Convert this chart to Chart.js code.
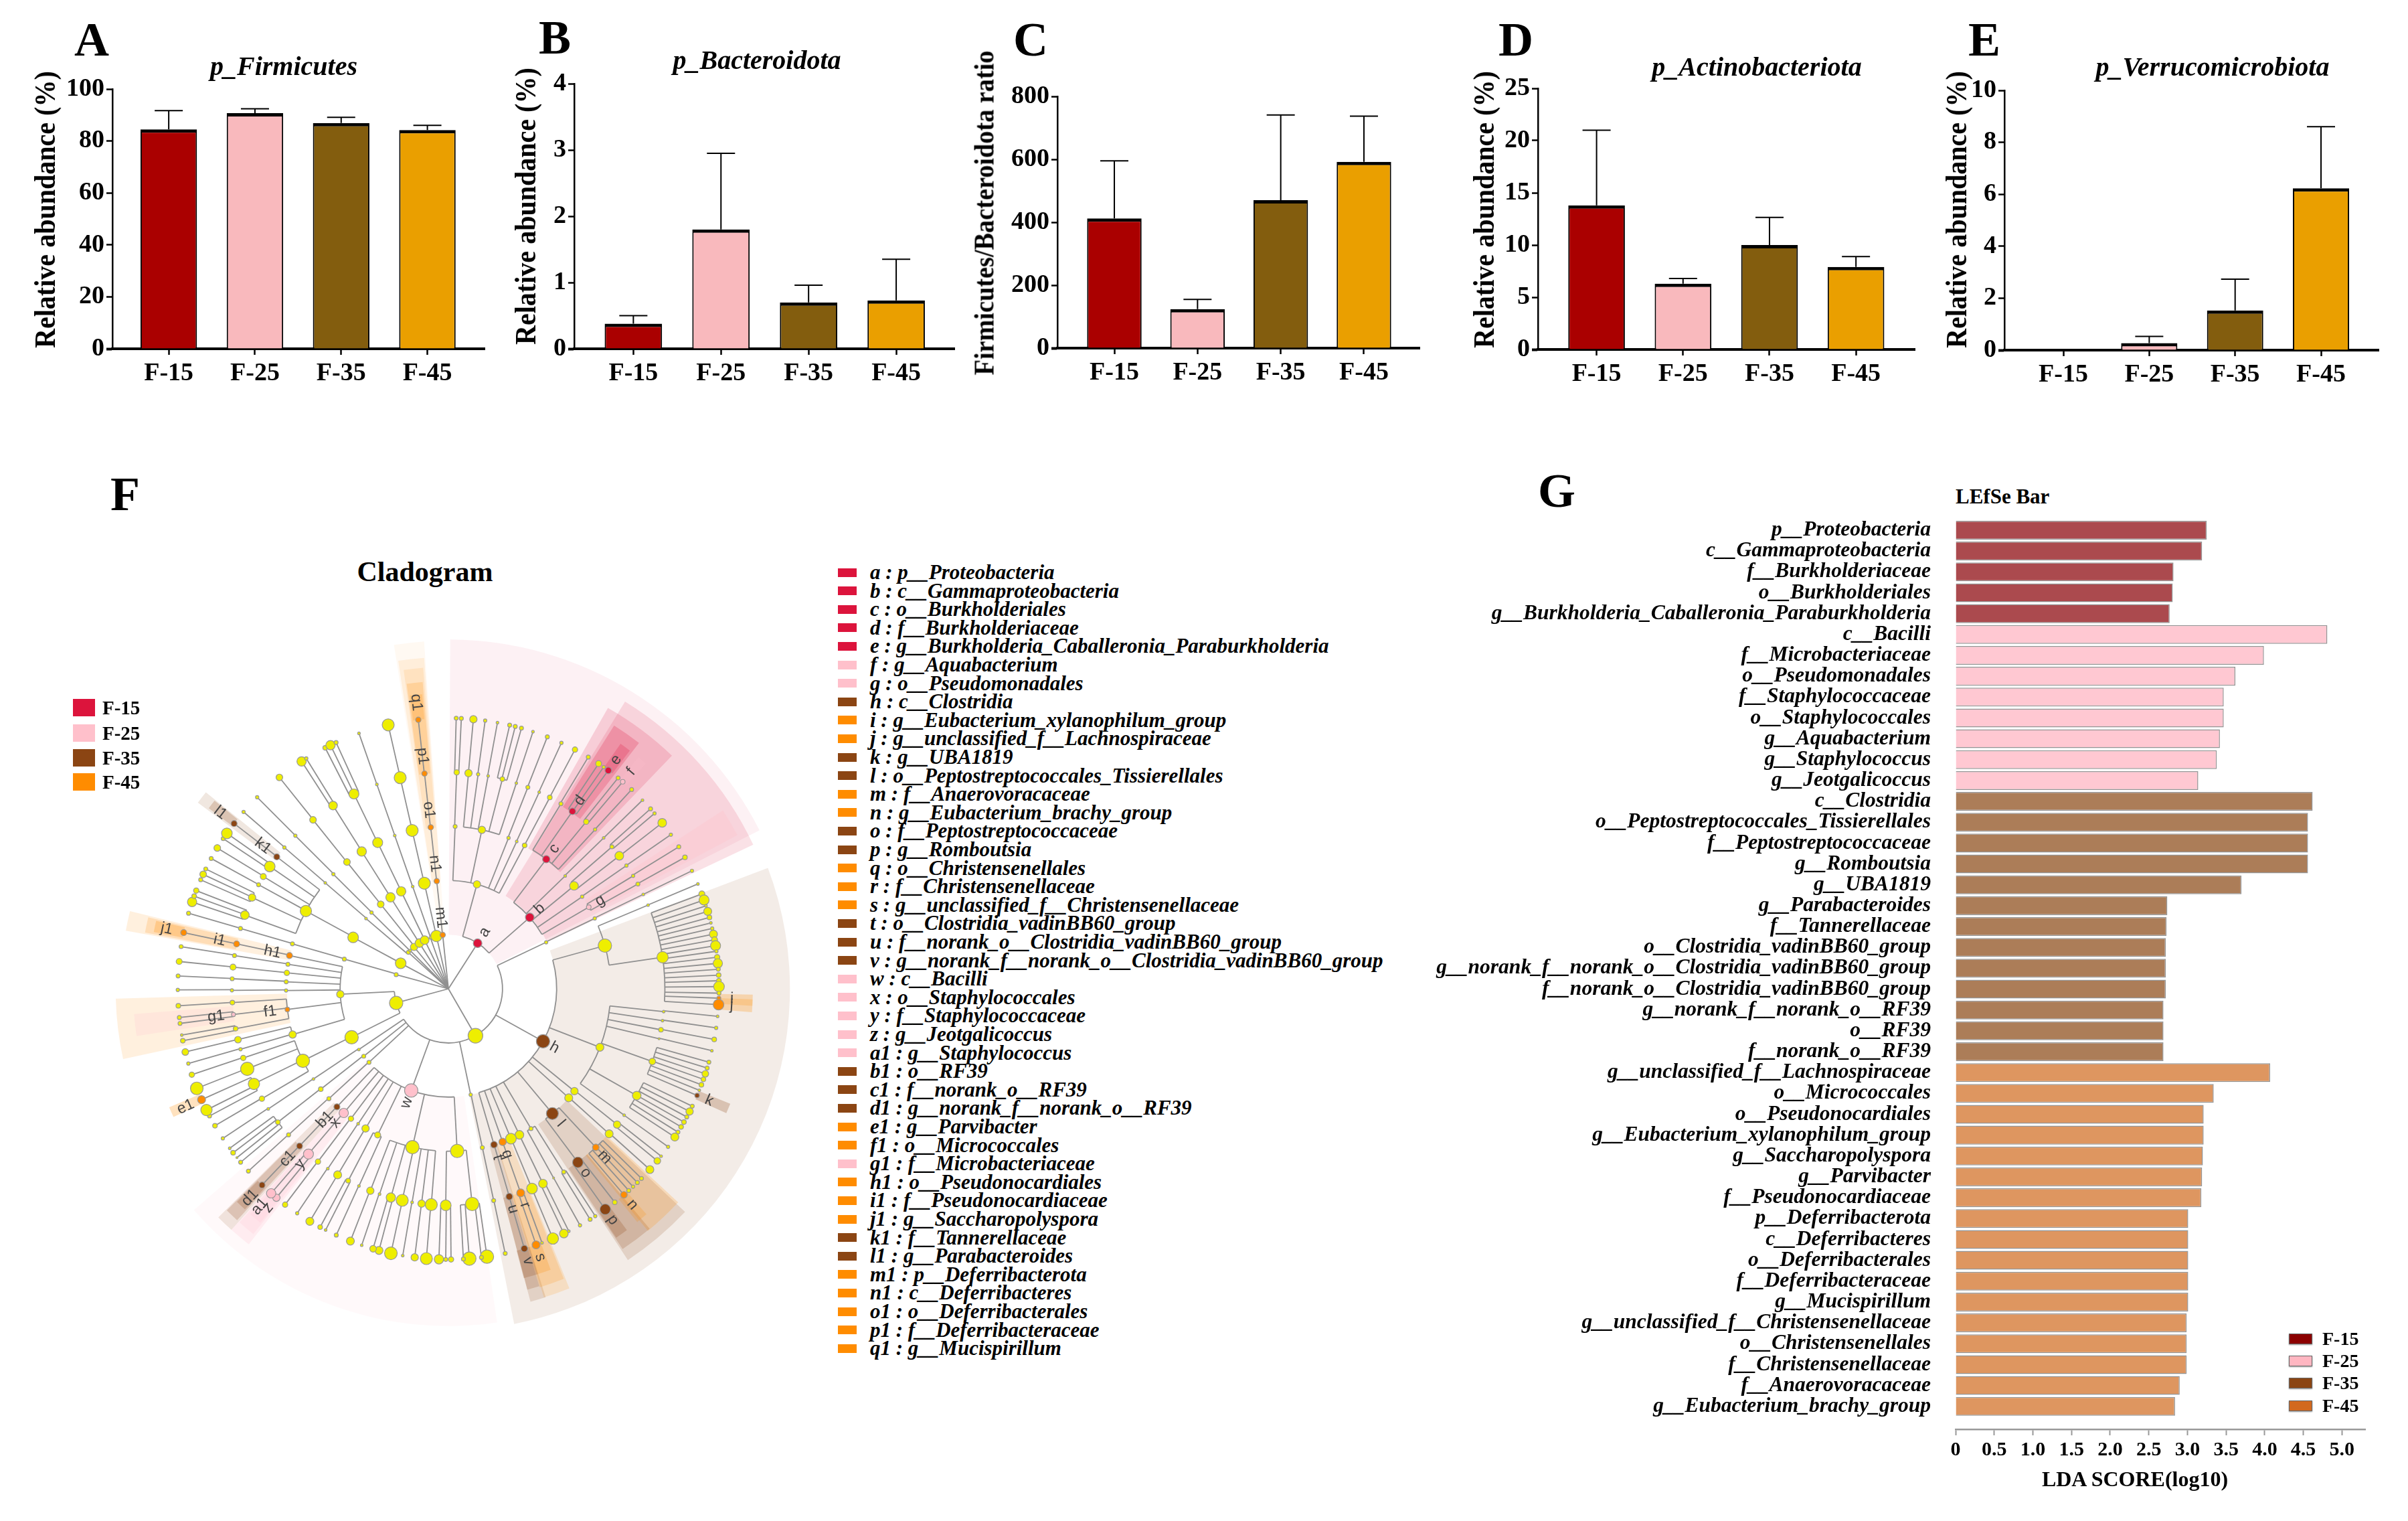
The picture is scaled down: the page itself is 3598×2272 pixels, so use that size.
<!DOCTYPE html>
<html>
<head>
<meta charset="utf-8">
<title>Gut microbiota panels</title>
<script src="https://cdn.jsdelivr.net/npm/chart.js@4"></script>
<style>
  html, body { margin: 0; padding: 0; background: #fff; }
  #page { position: relative; width: 3598px; height: 2272px; overflow: hidden; font-family: "Liberation Serif", serif; color: #000; }
  #page canvas { position: absolute; }
  .txt { position: absolute; white-space: nowrap; font-weight: bold; }
  .swatch { position: absolute; }
</style>
</head>
<body>
<div id="page"></div>
<script>
// ---- panels A-E ----
const groups = ['F-15', 'F-25', 'F-35', 'F-45'];
const barColors = ['#AA0000', '#F9B9BD', '#835D0E', '#EA9F00'];

const firmicutesMean = [84.5, 90.7, 86.9, 84.2];
const firmicutesUpper = [91.7, 92.4, 89.1, 86.0];
const bacteroidotaMean = [0.38, 1.80, 0.70, 0.73];
const bacteroidotaUpper = [0.50, 2.95, 0.96, 1.35];
const ratioMean = [412, 124, 470, 592];
const ratioUpper = [595, 155, 741, 737];
const actinoMean = [13.8, 6.3, 10.0, 7.9];
const actinoUpper = [21.0, 6.8, 12.65, 8.9];
const verrucoMean = [0, 0.27, 1.53, 6.23];
const verrucoUpper = [0, 0.53, 2.73, 8.6];

// ---- panel G ----
const lefseTaxa = [
  'p__Proteobacteria', 'c__Gammaproteobacteria', 'f__Burkholderiaceae', 'o__Burkholderiales',
  'g__Burkholderia_Caballeronia_Paraburkholderia', 'c__Bacilli', 'f__Microbacteriaceae', 'o__Pseudomonadales',
  'f__Staphylococcaceae', 'o__Staphylococcales', 'g__Aquabacterium', 'g__Staphylococcus', 'g__Jeotgalicoccus',
  'c__Clostridia', 'o__Peptostreptococcales_Tissierellales', 'f__Peptostreptococcaceae', 'g__Romboutsia',
  'g__UBA1819', 'g__Parabacteroides', 'f__Tannerellaceae', 'o__Clostridia_vadinBB60_group',
  'g__norank_f__norank_o__Clostridia_vadinBB60_group', 'f__norank_o__Clostridia_vadinBB60_group',
  'g__norank_f__norank_o__RF39', 'o__RF39', 'f__norank_o__RF39', 'g__unclassified_f__Lachnospiraceae',
  'o__Micrococcales', 'o__Pseudonocardiales', 'g__Eubacterium_xylanophilum_group', 'g__Saccharopolyspora',
  'g__Parvibacter', 'f__Pseudonocardiaceae', 'p__Deferribacterota', 'c__Deferribacteres', 'o__Deferribacterales',
  'f__Deferribacteraceae', 'g__Mucispirillum', 'g__unclassified_f__Christensenellaceae', 'o__Christensenellales',
  'f__Christensenellaceae', 'f__Anaerovoracaceae', 'g__Eubacterium_brachy_group'
];
const lefseScore = [
  3.25, 3.19, 2.82, 2.81, 2.77, 4.81, 3.99, 3.62, 3.47, 3.47, 3.42, 3.38, 3.14,
  4.62, 4.56, 4.56, 4.56, 3.70, 2.74, 2.73, 2.72, 2.72, 2.72, 2.69, 2.69, 2.69,
  4.07, 3.34, 3.21, 3.21, 3.20, 3.19, 3.18, 3.01, 3.01, 3.01, 3.01, 3.01, 2.99, 2.99, 2.99, 2.90, 2.84
];
const lefseGroup = [
  0, 0, 0, 0, 0, 1, 1, 1, 1, 1, 1, 1, 1,
  2, 2, 2, 2, 2, 2, 2, 2, 2, 2, 2, 2, 2,
  3, 3, 3, 3, 3, 3, 3, 3, 3, 3, 3, 3, 3, 3, 3, 3, 3
];
const lefseFill = ['#AB4A4E', '#FFC8D2', '#AC7D58', '#DE9660'];
const lefseLegend = ['#8B0000', '#FFB6C1', '#8B4513', '#D2691E'];

// ---- panel F legend ----
const cladeColors = ['#EEEE00', '#DC143C', '#FFC0CB', '#8B4513', '#FF8C00'];
const cladeRgb = ['', '220,20,60', '255,192,203', '139,69,19', '255,140,0'];
const taxaKeys = [
  'a : p__Proteobacteria', 'b : c__Gammaproteobacteria', 'c : o__Burkholderiales', 'd : f__Burkholderiaceae',
  'e : g__Burkholderia_Caballeronia_Paraburkholderia', 'f : g__Aquabacterium', 'g : o__Pseudomonadales',
  'h : c__Clostridia', 'i : g__Eubacterium_xylanophilum_group', 'j : g__unclassified_f__Lachnospiraceae',
  'k : g__UBA1819', 'l : o__Peptostreptococcales_Tissierellales', 'm : f__Anaerovoracaceae',
  'n : g__Eubacterium_brachy_group', 'o : f__Peptostreptococcaceae', 'p : g__Romboutsia', 'q : o__Christensenellales',
  'r : f__Christensenellaceae', 's : g__unclassified_f__Christensenellaceae', 't : o__Clostridia_vadinBB60_group',
  'u : f__norank_o__Clostridia_vadinBB60_group', 'v : g__norank_f__norank_o__Clostridia_vadinBB60_group',
  'w : c__Bacilli', 'x : o__Staphylococcales', 'y : f__Staphylococcaceae', 'z : g__Jeotgalicoccus',
  'a1 : g__Staphylococcus', 'b1 : o__RF39', 'c1 : f__norank_o__RF39', 'd1 : g__norank_f__norank_o__RF39',
  'e1 : g__Parvibacter', 'f1 : o__Micrococcales', 'g1 : f__Microbacteriaceae', 'h1 : o__Pseudonocardiales',
  'i1 : f__Pseudonocardiaceae', 'j1 : g__Saccharopolyspora', 'k1 : f__Tannerellaceae', 'l1 : g__Parabacteroides',
  'm1 : p__Deferribacterota', 'n1 : c__Deferribacteres', 'o1 : o__Deferribacterales', 'p1 : f__Deferribacteraceae',
  'q1 : g__Mucispirillum'
];
const taxaGroup = [
  1, 1, 1, 1, 1, 2, 2, 3, 4, 4, 3, 3, 4, 4, 3, 3, 4, 4, 4, 3, 3, 3,
  2, 2, 2, 2, 2, 3, 3, 3, 4, 4, 2, 4, 4, 4, 3, 3, 4, 4, 4, 4, 4
];

// ---- panel F tree ----
// depth first, clockwise from north: [level, direction x, direction y, dot radius, group, label]
const cladeNodes = [
  [0,0,-1,0,0],
  [1,130,-203,6.5,1,'a'],
  [2,127,-465,5.5,0],
  [3,30,-725,3,0],[4,37,-967,4,0],[5,35,-1212,3,0],[5,58,-1212,3,0],
  [3,150,-712,5.5,0],
  [4,90,-965,5.5,0],[5,112,-1208,5.5,0],
  [4,133,-960,2.5,0],[5,165,-1203,2.5,0],
  [4,178,-953,2,0],[5,220,-1193,2,0],
  [4,242,-940,3.5,0],[5,275,-1183,3,0],[5,300,-1177,3,0],[5,328,-1170,3,0],
  [4,305,-923,2,0],[5,380,-1155,2,0],
  [3,270,-677,2.5,0],[4,357,-905,3,0],[5,445,-1133,3,0],
  [3,307,-662,2,0],[4,408,-883,2,0],[5,508,-1105,2.5,0],
  [3,343,-645,3.5,0],[4,457,-862,3.5,0],[5,570,-1077,4,0],
  [2,368,-323,6.5,1,'b'],
  [3,442,-585,5.5,1,'c'],
  [4,508,-835,3,0],[5,631,-1045,3,0],
  [4,560,-801,5,1,'d'],[5,678,-1016,4.5,0],[5,702,-1002,2.5,0],[5,723,-987,5,1,'e'],
  [4,623,-755,4,0],[5,768,-954,3,0],[5,790,-938,3.5,2,'f'],
  [4,665,-722,2.5,0],[5,830,-902,3,0],
  [3,530,-512,2,0],[4,703,-683,2,0],[5,880,-855,2,0],
  [3,570,-467,6.5,0],
  [4,743,-645,3,0],[5,918,-817,3,0],[5,937,-797,2.5,0],
  [4,778,-605,6.5,0],[5,973,-755,6.5,0],
  [3,610,-420,2.5,0],[4,812,-562,2.5,0],[5,1015,-703,2.5,0],
  [3,640,-372,3.5,2,'g'],
  [4,843,-515,2.5,0],[5,1050,-647,3,0],
  [4,865,-478,3,0],[5,1080,-600,3.5,0],

  [1,127,220,11,0],
  [2,448,-213,2.5,0],[3,670,-322,2.5,0],[4,892,-432,2,0],[5,1115,-540,2.5,0],
  [2,438,243,10,3,'h'],
  [3,718,-198,10,0],
  [4,914,-383,2,0],[5,1143,-480,2,0],
  [4,985,-145,8.5,0],
  [5,1163,-435,4.5,0],[5,1173,-407,7.5,0],[5,1183,-381,2,0],[5,1190,-355,6,0],[5,1197,-327,3.5,0],[5,1203,-302,2,0],
  [5,1212,-277,2.5,0],[5,1218,-251,6,0],[5,1223,-225,4.5,0],[5,1228,-198,7.5,0],[5,1230,-172,2.5,0],[5,1235,-145,4,0],
  [5,1240,-117,7,0],[5,1242,-90,3,0],[5,1243,-63,3.5,0],[5,1245,-37,3.5,0],[5,1245,-10,8,0],[5,1245,20,3,0],
  [5,1243,43,3,4,'i'],[5,1243,73,8,4,'j'],
  [3,700,270,6,0],
  [4,992,105,2,0],[5,1240,127,2,0],
  [4,988,147,2,0],[5,1232,180,2.5,0],
  [4,980,189,3.5,0],[5,1223,233,3.5,0],
  [4,970,230,1.5,0],[5,1213,285,2,0],
  [4,940,335,5,0],[5,1200,338,3,0],[5,1192,365,3,0],[5,1182,391,5,0],[5,1175,417,3.5,0],[5,1165,442,3.5,0],[5,1155,467,2,0],[5,1145,491,3.5,3,'k'],
  [4,866,491,6.5,0],[5,1122,540,3,0],[5,1109,564,5.5,0],[5,1096,589,3,0],[5,1082,612,3.5,0],[5,1070,635,3.5,0],[5,1054,658,3,0],[5,1039,680,6,0],
  [4,808,581,2,0],[5,1008,725,2.5,0],
  [3,580,471,5.5,0],[4,774,623,5.5,0],[5,975,767,2,0],[5,957,788,5,0],
  [3,553,501,6,0],[4,737,665,6,0],[5,922,827,6,0],
  [3,477,572,9,3,'l'],
  [4,675,726,5,4,'m'],[5,884,868,3,0],[5,865,887,3,0],[5,845,905,2.5,0],[5,825,923,3,0],[5,802,941,5,4,'n'],
  [4,591,792,8,3,'o'],[5,760,975,3.5,0],[5,715,1005,8,3,'p'],
  [3,378,640,3,0],
  [4,527,837,3,0],[5,670,1037,2.5,0],[5,646,1051,3,0],
  [4,480,863,1.5,0],[5,600,1078,2.5,0],
  [3,325,668,6.5,0],[4,431,888,6.5,0],[5,548,1103,2,0],[5,525,1113,6.5,0],
  [3,286,685,8,0],[4,381,910,8,0],[5,475,1135,8.5,0],
  [3,248,700,5.5,4,'q'],[4,329,929,6,4,'r'],[5,425,1153,2,0],[5,399,1165,6,4,'s'],
  [3,208,711,5,3,'t'],[4,277,945,5,3,'u'],[5,345,1180,5,3,'v'],
  [2,102,485,2.5,0],[3,155,725,3,0],[4,206,963,3,0],[5,258,1202,3,0],
  [2,-170,465,10,2,'w'],
  [3,40,740,10,0],
  [4,108,977,10,0],[5,175,1215,10,0],[5,150,1220,3,0],[5,95,1223,10,0],[5,68,1225,3,0],
  [4,-12,983,8,0],[5,12,1227,4,0],[5,-12,1227,3,0],[5,-43,1227,7,0],
  [3,-164,722,10,0],
  [4,-78,982,9,0],[5,-100,1225,9,0],
  [4,-122,975,5.5,0],[5,-153,1219,5.5,0],
  [4,-165,970,2,0],[5,-207,1209,2,0],
  [4,-210,962,9,0],[5,-261,1200,9.5,0],
  [4,-262,950,7,0],[5,-315,1187,6,0],[5,-342,1180,5,0],
  [4,-313,933,2,0],[5,-394,1165,2,0],
  [4,-355,918,5.5,0],[5,-445,1145,6,0],
  [3,-323,667,4.5,0],
  [4,-407,897,2,0],[5,-510,1120,3,0],
  [4,-457,875,3.5,0],[5,-558,1096,2,0],[5,-583,1083,3.5,0],
  [3,-378,637,5.5,0],[4,-505,848,6,0],[5,-630,1057,6,0],
  [3,-412,616,2,0],[4,-550,820,2,0],[5,-688,1021,2.5,0],
  [3,-445,593,4,0],[4,-595,788,4,0],[5,-744,983,4,0],
  [3,-478,567,7,2,'x'],[4,-638,753,7.5,2,'y'],[5,-785,953,5.5,2,'z'],[5,-808,932,7,2,'a1'],
  [3,-510,540,4.5,3,'b1'],[4,-680,718,4.5,3,'c1'],[5,-850,895,4.5,3,'d1'],
  [2,-365,338,3,0],[3,-547,503,3,0],[4,-730,667,3,0],[5,-913,832,3,0],
  [2,-388,309,3,0],[3,-585,460,3.5,0],[4,-780,610,3.5,0],[5,-949,792,3,0],[5,-967,772,1.5,0],[5,-985,750,3.5,0],[5,-1000,729,2,0],
  [2,-410,278,2,0],[3,-618,413,2,0],[4,-825,550,2,0],[5,-1032,684,2.5,0],

  [1,-239,65,10,0],
  [2,-445,223,10,0],[3,-667,330,10,0],
  [4,-854,503,4,0],[5,-1069,627,3.5,0],
  [4,-890,435,8.5,0],[5,-1095,583,3,0],[5,-1108,555,8.5,0],[5,-1131,508,6,4,'e1'],
  [4,-922,367,10,0],[5,-1155,457,9.5,0],
  [4,-940,317,4,0],[5,-1177,394,4,0],
  [2,-494,25,5.5,0],
  [3,-715,210,5.5,0],
  [4,-953,277,2.5,0],[5,-1193,343,2.5,0],
  [4,-964,233,5,0],[5,-1207,290,5,0],
  [3,-738,95,3.5,4,'f1'],
  [4,-977,183,3.5,0],[5,-1218,238,3.5,0],[5,-1223,212,2,0],
  [4,-986,118,3,2,'g1'],[5,-1232,159,3,0],[5,-1235,132,3,0],
  [4,-990,63,3.5,0],[5,-1240,78,3.5,0],
  [3,-743,8,2.5,0],[4,-992,7,2.5,0],[5,-1242,5,2.5,0],
  [3,-743,-32,3,0],[4,-990,-46,3,0],[5,-1240,-59,3,0],
  [3,-739,-73,4,0],[4,-987,-99,4.5,0],[5,-1234,-125,4.5,0],
  [3,-735,-112,3,0],[4,-980,-152,3,0],[5,-1224,-193,3,0],
  [3,-727,-152,4.5,4,'h1'],[4,-968,-205,4.5,4,'i1'],[5,-1211,-257,4.5,4,'j1'],

  [1,-237,-64,3,0],[2,-474,-135,3,0],[3,-711,-205,3,0],[4,-949,-275,3,0],[5,-1187,-345,3,0],

  [1,-215,-115,8,0],[2,-432,-233,8,0],[3,-647,-353,8.5,0],
  [4,-930,-337,6.5,0],[5,-1172,-397,7,0],[5,-1161,-423,3.5,0],[5,-1151,-448,4,0],
  [4,-895,-416,5.5,0],[5,-1130,-497,3,0],[5,-1119,-522,5,0],[5,-1106,-546,3,0],
  [4,-863,-473,3,0],[5,-1080,-593,3,0],
  [4,-841,-510,4.5,0],[5,-1051,-640,5,0],
  [4,-811,-555,8,0],[5,-1023,-682,3,0],[5,-1005,-705,8,0],
  [4,-778,-598,4.5,3,'k1'],[5,-973,-750,4.5,3,'l1'],

  [1,-178,-162,3,0],[2,-372,-317,2,0],[3,-556,-478,2,0],[4,-742,-639,2.5,0],[5,-929,-802,2.5,0],
  [1,-173,-173,2,0],[2,-345,-342,2.5,0],[3,-519,-517,2.5,0],[4,-692,-692,2.5,0],[5,-865,-866,2.5,0],
  [1,-152,-185,5.5,0],[2,-303,-378,5,0],[3,-457,-571,5,0],[4,-610,-761,5,0],[5,-763,-954,5,0],
  [1,-130,-205,6.5,0],[2,-259,-409,7,0],[3,-389,-616,7,0],[4,-519,-824,6.5,0],[5,-662,-1025,7,0],[5,-640,-1037,2.5,0],
  [1,-105,-215,6.5,0],[2,-211,-435,7,0],[3,-317,-655,7.5,0],[4,-424,-874,7.5,0],[5,-555,-1085,3.5,0],[5,-530,-1095,7,0],[5,-505,-1107,3,0],
  [1,-81,-230,2,0],[2,-159,-455,2,0],[3,-240,-685,2,0],[4,-321,-917,2,0],[5,-402,-1148,2,0],
  [1,-53,-233,8.5,0],[2,-107,-469,9,0],[3,-162,-707,9,0],[4,-216,-945,9,0],[5,-270,-1183,9,0],
  [1,-25,-235,4,4,'m1'],[2,-52,-479,4,4,'n1'],[3,-79,-721,4,4,'o1'],[4,-107,-963,4,4,'p1'],[5,-135,-1206,4,4,'q1']
];

// shaded sectors: [from angle, to angle, inner radius, outer radius, group, opacity]
const cladeSectors = [
  [0.3,63,248,1600,1,.06],
  [31.6,64.7,500,1545,1,.13],
  [29.6,43.8,740,1480,1,.16],
  [32.2,37.8,985,1425,1,.22],
  [35.1,37.3,1240,1372,1,.22],
  [39.4,41.2,1240,1372,2,.2],
  [57,62,745,1500,2,.3],
  [69.3,168.9,497,1565,3,.1],
  [171.7,229,497,1545,2,.1],
  [133.3,146.5,745,1490,3,.16],
  [140,146.2,990,1435,3,.2],
  [143.5,146,1240,1375,3,.22],
  [132.9,140.5,990,1437,4,.2],
  [138.7,141,1240,1375,4,.2],
  [162.5,165.3,745,1482,3,.16],
  [158,162.8,745,1480,4,.16],
  [163,165.3,990,1425,3,.2],
  [158.3,163,990,1430,4,.18],
  [162.6,165.4,1240,1370,3,.22],
  [160,162.6,1240,1370,4,.22],
  [112.2,114.1,1240,1395,3,.25],
  [91.1,94.4,1240,1395,4,.25],
  [92,93.2,1240,1395,4,.2],
  [222,225.2,740,1486,3,.13],
  [222.4,225,990,1436,3,.2],
  [222.7,224.8,1240,1375,3,.22],
  [218,222,740,1486,2,.22],
  [218.5,221.8,990,1436,2,.2],
  [218.8,221.3,1240,1375,2,.2],
  [245,247,1240,1390,4,.25],
  [257.8,268.3,740,1525,4,.13],
  [261.4,265.4,990,1445,2,.22],
  [280.2,283.7,740,1502,4,.13],
  [280.5,283.4,990,1414,4,.18],
  [280.9,283.1,1240,1375,4,.25],
  [306.6,309,990,1430,3,.13],
  [307,308.8,1240,1375,3,.22],
  [351,356,248,1595,4,.05],
  [351.3,355.8,496,1520,4,.1],
  [352,355.5,740,1475,4,.12],
  [352.2,355.2,990,1410,4,.2],
  [352.5,354.9,1240,1355,4,.22]
];

const pageEl = document.getElementById('page');

function addText(text, x, y, css, anchorX) {
  const el = document.createElement('div');
  el.className = 'txt';
  el.textContent = text;
  el.style.left = x + 'px';
  el.style.top = y + 'px';
  el.style.cssText += css;
  el.style.transform = 'translate(' + (anchorX === undefined ? '-50%' : anchorX) + ',-50%)';
  pageEl.appendChild(el);
  return el;
}

function addRotated(text, x, y, size) {
  const el = addText(text, x, y, 'font-size:' + size + 'px;');
  el.style.transform = 'translate(-50%,-50%) rotate(-90deg) scaleX(.89)';
}

function addSwatch(x, y, w, h, color, extra) {
  const el = document.createElement('div');
  el.className = 'swatch';
  el.style.cssText = 'left:' + x + 'px;top:' + y + 'px;width:' + w + 'px;height:' + h + 'px;background:' + color + ';' + (extra || '');
  pageEl.appendChild(el);
}

function addCanvas(left, top, width, height) {
  const c = document.createElement('canvas');
  c.width = width;
  c.height = height;
  c.style.left = left + 'px';
  c.style.top = top + 'px';
  c.style.width = width + 'px';
  c.style.height = height + 'px';
  pageEl.appendChild(c);
  return c;
}

Chart.defaults.font.family = '"Liberation Serif", serif';
Chart.defaults.color = '#000';
Chart.defaults.animation = false;
Chart.defaults.responsive = false;
Chart.defaults.devicePixelRatio = 1;
Chart.defaults.plugins.legend.display = false;
Chart.defaults.plugins.tooltip.enabled = false;

// error bars above the columns, read through the value scale
const errorBarsPlugin = {
  id: 'errorBars',
  afterDatasetsDraw(chart, args, opts) {
    const ctx = chart.ctx, yScale = chart.scales.y;
    chart.getDatasetMeta(0).data.forEach((bar, i) => {
      if (!opts.upper[i]) return;
      const top = yScale.getPixelForValue(opts.upper[i]);
      ctx.save();
      ctx.strokeStyle = '#000';
      ctx.lineWidth = 2;
      ctx.beginPath();
      ctx.moveTo(bar.x, bar.y);
      ctx.lineTo(bar.x, top);
      ctx.moveTo(bar.x - 21, top);
      ctx.lineTo(bar.x + 21, top);
      ctx.stroke();
      ctx.restore();
    });
  }
};

function barPanel(p) {
  const left = p.axisX - 110, top = p.topY - 40;
  const canvas = addCanvas(left, top, p.endX - left + 10, p.zeroY - top + 70);
  new Chart(canvas, {
    type: 'bar',
    data: {
      datasets: [{
        data: p.mean.map((v, i) => ({ x: i, y: v })),
        backgroundColor: barColors,
        borderColor: '#000',
        borderWidth: { top: 5, left: 2, right: 2, bottom: 0 },
        barPercentage: 0.655,
        categoryPercentage: 1
      }]
    },
    options: {
      layout: { padding: { top: 40, right: 10 } },
      plugins: { errorBars: { upper: p.upper } },
      scales: {
        x: {
          type: 'linear', offset: false, min: p.xMin, max: p.xMax,
          afterBuildTicks: s => { s.ticks = groups.map((g, i) => ({ value: i })); },
          afterFit: s => { s.height = 70; },
          border: { color: '#000', width: 4 },
          grid: { offset: false, drawOnChartArea: false, color: '#000', tickLength: 9, tickWidth: 2.5 },
          ticks: { autoSkip: false, maxRotation: 0, padding: 5, font: { size: 38, weight: 'bold' }, callback: v => groups[v] }
        },
        y: {
          min: 0, max: p.yMax,
          afterFit: s => { s.width = 110; },
          border: { color: '#000', width: 2.5 },
          grid: { drawOnChartArea: false, color: '#000', tickLength: 9, tickWidth: c => (c.tick.value === 0 ? 4 : 2.5) },
          ticks: { stepSize: p.yStep, padding: 3, font: { size: 38, weight: 'bold' } }
        }
      }
    },
    plugins: [errorBarsPlugin]
  });
}

barPanel({ mean: firmicutesMean, upper: firmicutesUpper, yMax: 100, yStep: 20, axisX: 167.5, endX: 724, topY: 133, zeroY: 521, xMin: -0.653, xMax: 3.663 });
barPanel({ mean: bacteroidotaMean, upper: bacteroidotaUpper, yMax: 4, yStep: 1, axisX: 858, endX: 1426, topY: 125, zeroY: 521, xMin: -0.675, xMax: 3.664 });
barPanel({ mean: ratioMean, upper: ratioUpper, yMax: 800, yStep: 200, axisX: 1580, endX: 2121, topY: 144, zeroY: 520, xMin: -0.684, xMax: 3.668 });
barPanel({ mean: actinoMean, upper: actinoUpper, yMax: 25, yStep: 5, axisX: 2298, endX: 2861, topY: 132, zeroY: 522, xMin: -0.678, xMax: 3.68 });
barPanel({ mean: verrucoMean, upper: verrucoUpper, yMax: 10, yStep: 2, axisX: 2995, endX: 3554, topY: 135, zeroY: 523, xMin: -0.686, xMax: 3.67 });

// panel letters, titles, axis names
[['A', 137, 59], ['B', 829, 56], ['C', 1540, 59], ['D', 2265, 59], ['E', 2965, 59], ['F', 187, 738], ['G', 2326, 733]]
  .forEach(l => addText(l[0], l[1], l[2], 'font-size:72px;'));
[['p_Firmicutes', 424, 98], ['p_Bacteroidota', 1131, 89], ['p_Actinobacteriota', 2625, 99], ['p_Verrucomicrobiota', 3306, 99]]
  .forEach(t => addText(t[0], t[1], t[2], 'font-size:40px;font-style:italic;'));
addRotated('Relative abundance (%)', 67, 313, 45);
addRotated('Relative abundance (%)', 785, 308, 45);
addRotated('Firmicutes/Bacteroidota ratio', 1470, 318, 43);
addRotated('Relative abundance (%)', 2217, 313, 45);
addRotated('Relative abundance (%)', 2923, 313, 45);

// ---- panel F: cladogram on a scatter chart ----
const ringStep = 248;
const cladeTree = [];
(function buildTree() {
  const last = [];
  cladeNodes.forEach(n => {
    let angle = Math.atan2(n[1], -n[2]) * 180 / Math.PI;
    if (angle < 0) angle += 360;
    const node = { level: n[0], angle, size: n[3], group: n[4], label: n[5], parent: n[0] ? last[n[0] - 1] : null, kids: [] };
    const rad = angle * Math.PI / 180;
    node.x = n[0] * ringStep * Math.sin(rad);
    node.y = -n[0] * ringStep * Math.cos(rad);
    if (node.parent) node.parent.kids.push(node);
    last[n[0]] = node;
    cladeTree.push(node);
  });
})();

const cladogramPlugin = {
  id: 'cladogram',
  beforeDatasetsDraw(chart) {
    const ctx = chart.ctx, sx = chart.scales.x, sy = chart.scales.y;
    const cx = sx.getPixelForValue(0), cy = sy.getPixelForValue(0);
    const unit = sx.getPixelForValue(1) - cx;
    const toCanvas = a => (a - 90) * Math.PI / 180;
    ctx.save();
    cladeSectors.forEach(s => {
      ctx.beginPath();
      ctx.arc(cx, cy, s[3] * unit, toCanvas(s[0]), toCanvas(s[1]));
      ctx.arc(cx, cy, s[2] * unit, toCanvas(s[1]), toCanvas(s[0]), true);
      ctx.closePath();
      ctx.fillStyle = 'rgba(' + cladeRgb[s[4]] + ',' + s[5] + ')';
      ctx.fill();
    });
    ctx.strokeStyle = '#909090';
    ctx.lineWidth = 1.8;
    cladeTree.forEach(n => {
      if (!n.kids.length) return;
      const r = n.level * ringStep * unit;
      const angles = n.kids.map(k => k.angle).concat(n.angle);
      if (n.level > 0) {
        ctx.beginPath();
        ctx.arc(cx, cy, r, toCanvas(Math.min(...angles)), toCanvas(Math.max(...angles)));
        ctx.stroke();
      }
      n.kids.forEach(k => {
        const a = toCanvas(k.angle);
        const r2 = k.level * ringStep * unit;
        ctx.beginPath();
        ctx.moveTo(cx + r * Math.cos(a), cy + r * Math.sin(a));
        ctx.lineTo(cx + r2 * Math.cos(a), cy + r2 * Math.sin(a));
        ctx.stroke();
      });
    });
    ctx.restore();
  },
  afterDatasetsDraw(chart) {
    const ctx = chart.ctx, sx = chart.scales.x, sy = chart.scales.y;
    ctx.save();
    ctx.font = '23px "Liberation Sans", sans-serif';
    ctx.fillStyle = '#444';
    ctx.textAlign = 'center';
    ctx.textBaseline = 'middle';
    cladeTree.forEach(n => {
      if (!n.label) return;
      const rad = n.angle * Math.PI / 180;
      const off = n.level * ringStep + (n.label.length > 1 ? 80 : 60);
      const px = sx.getPixelForValue(off * Math.sin(rad));
      const py = sy.getPixelForValue(-off * Math.cos(rad));
      ctx.save();
      ctx.translate(px, py);
      ctx.rotate(((n.angle < 180 ? n.angle - 90 : n.angle - 270)) * Math.PI / 180);
      ctx.fillText(n.label, 0, 0);
      ctx.restore();
    });
    ctx.restore();
  }
};

new Chart(addCanvas(110, 917, 1120, 1120), {
  type: 'scatter',
  data: {
    datasets: [{
      data: cladeTree.map(n => ({ x: n.x, y: n.y })),
      pointRadius: cladeTree.map(n => n.size),
      pointBackgroundColor: cladeTree.map(n => cladeColors[n.group]),
      pointBorderColor: '#999',
      pointBorderWidth: 1.2
    }]
  },
  options: {
    layout: { padding: 0 },
    scales: {
      x: { display: false, min: -1680, max: 1680 },
      y: { display: false, min: -1680, max: 1680, reverse: true }
    }
  },
  plugins: [cladogramPlugin]
});

addText('Cladogram', 635, 854, 'font-size:42px;');
groups.forEach((g, i) => {
  const y = [1057, 1095, 1132, 1168][i];
  addSwatch(109, y - 13, 33, 26, cladeColors[i + 1]);
  addText(g, 153, y, 'font-size:29px;', '0');
});
taxaKeys.forEach((t, i) => {
  const y = 855 + i * 27.6;
  addSwatch(1252, y - 6.5, 28, 13, cladeColors[taxaGroup[i]]);
  addText(t, 1300, y, 'font-size:31px;font-style:italic;', '0');
});

// ---- panel G ----
new Chart(addCanvas(2100, 760, 1480, 1480), {
  type: 'bar',
  data: {
    datasets: [{
      data: lefseScore.map((v, i) => ({ x: v, y: i })),
      backgroundColor: lefseGroup.map(g => lefseFill[g]),
      borderColor: 'rgba(90,90,90,.65)',
      borderWidth: 1.5,
      barPercentage: 0.9,
      categoryPercentage: 1
    }]
  },
  options: {
    indexAxis: 'y',
    layout: { padding: { top: 16.4, right: 46 } },
    scales: {
      y: {
        type: 'linear', offset: false, reverse: true, min: -0.5, max: 43.1,
        afterBuildTicks: s => { s.ticks = lefseTaxa.map((t, i) => ({ value: i })); },
        afterFit: s => { s.width = 822; s.paddingTop = 0; s.paddingBottom = 0; },
        border: { display: false },
        grid: { offset: false, display: false },
        ticks: { autoSkip: false, padding: 29, font: { size: 31.5, style: 'italic', weight: 'bold' }, callback: v => lefseTaxa[v] }
      },
      x: {
        min: 0, max: 5.3,
        afterFit: s => { s.height = 105; },
        border: { color: '#999', width: 2.5 },
        grid: { drawOnChartArea: false, color: '#999', tickLength: 9, tickWidth: 2 },
        ticks: {
          stepSize: 0.5, includeBounds: false, maxRotation: 0, padding: 4,
          font: { size: 30, weight: 'bold' },
          callback: v => (v === 0 ? '0' : Number(v).toFixed(1))
        }
      }
    }
  }
});

addText('LEfSe Bar', 2922, 742, 'font-size:31px;', '0');
addText('LDA SCORE(log10)', 3190, 2209, 'font-size:32px;');
groups.forEach((g, i) => {
  const y = [2000, 2033, 2066, 2100][i];
  addSwatch(3420, y - 8, 35, 16, lefseLegend[i], 'border:1.5px solid #666;box-shadow:0 1px 2px #999;box-sizing:border-box;');
  addText(g, 3470, y, 'font-size:28px;', '0');
});
</script>
</body>
</html>
